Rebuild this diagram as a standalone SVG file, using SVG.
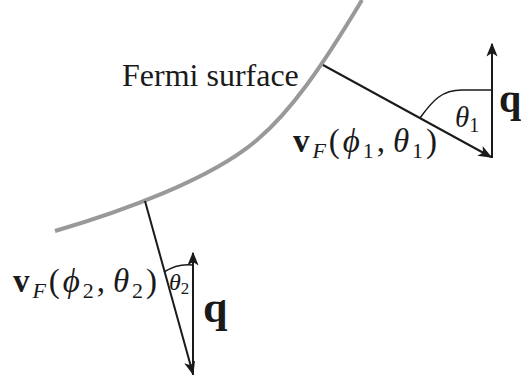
<svg xmlns="http://www.w3.org/2000/svg" width="521" height="386" viewBox="0 0 521 386">
<defs>
<marker id="ah" viewBox="0 0 10 10" refX="9" refY="5" markerWidth="14" markerHeight="14" markerUnits="userSpaceOnUse" orient="auto">
<path d="M0,1 L10,5 L0,9 L2.5,5 Z" fill="#1a1a1a"/>
</marker>
</defs>
<style>
.fs{fill:none;stroke:#999;stroke-width:4}
.ln{fill:none;stroke:#1a1a1a;stroke-width:2}
.arc{fill:none;stroke:#1a1a1a;stroke-width:1.5}
.t{font-family:"Liberation Serif","Times New Roman",serif;fill:#1a1a1a}
.it{font-style:italic}
.b{font-weight:bold}
</style>
<rect width="521" height="386" fill="#fff"/>
<g id="fermi-surface">
<path class="fs" d="M55,231 C120,212 210,180 257,140 C290,112 320,70 362,0"/>
<text class="t" x="122" y="86" font-size="32">Fermi surface</text>
</g>
<g id="connectors">
<line class="ln" x1="323" y1="65" x2="491" y2="157" marker-end="url(#ah)"/>
<line class="ln" x1="492" y1="158" x2="492" y2="44" marker-end="url(#ah)"/>
<line class="ln" x1="145" y1="201" x2="193" y2="374" marker-end="url(#ah)"/>
<line class="ln" x1="193" y1="375" x2="193" y2="253" marker-end="url(#ah)"/>
<path class="arc" d="M420,118 C433,100 442,90 462,90 L492,90"/>
<path class="arc" d="M164,272 Q178,263 193,265"/>
</g>
<g id="label-v1">
<text class="t" x="293" y="152" font-size="33" textLength="144" lengthAdjust="spacing"><tspan class="b">v</tspan><tspan class="it" font-size="22" dy="6">F</tspan><tspan dy="-6">(</tspan><tspan class="it">ϕ</tspan><tspan font-size="22" dy="6">1</tspan><tspan dy="-6">,</tspan><tspan class="it" dx="5">θ</tspan><tspan font-size="22" dy="6">1</tspan><tspan dy="-6">)</tspan></text>
</g>
<g id="label-theta1">
<text class="t" x="455" y="127" font-size="29"><tspan class="it">θ</tspan><tspan font-size="20" dy="5">1</tspan></text>
</g>
<g id="label-q1">
<text class="t b" x="499" y="112" font-size="40">q</text>
</g>
<g id="label-v2">
<text class="t" x="13" y="292" font-size="33" textLength="144" lengthAdjust="spacing"><tspan class="b">v</tspan><tspan class="it" font-size="22" dy="6">F</tspan><tspan dy="-6">(</tspan><tspan class="it">ϕ</tspan><tspan font-size="22" dy="6">2</tspan><tspan dy="-6">,</tspan><tspan class="it" dx="5">θ</tspan><tspan font-size="22" dy="6">2</tspan><tspan dy="-6">)</tspan></text>
</g>
<g id="label-theta2">
<text class="t" x="169" y="290" font-size="24"><tspan class="it">θ</tspan><tspan font-size="17" dy="4">2</tspan></text>
</g>
<g id="label-q2">
<text class="t b" x="203" y="322" font-size="44">q</text>
</g>
</svg>
